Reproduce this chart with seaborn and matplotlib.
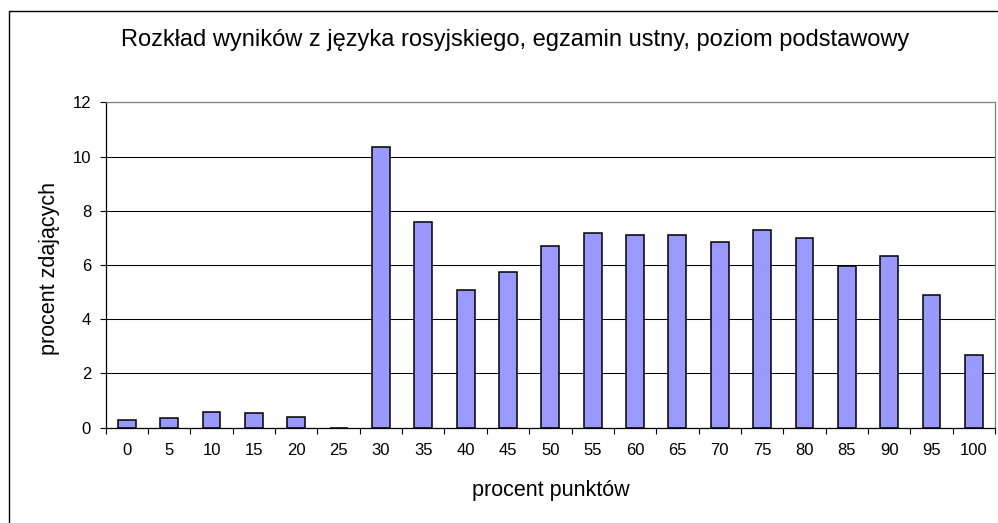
import pandas as pd
import seaborn as sns
import matplotlib.pyplot as plt
from matplotlib.patches import Rectangle

# data
scores = ["0", "5", "10", "15", "20", "25", "30", "35", "40", "45", "50",
          "55", "60", "65", "70", "75", "80", "85", "90", "95", "100"]
percent = [0.28, 0.35, 0.59, 0.54, 0.41, 0.0, 10.34, 7.58, 5.08, 5.73, 6.69,
           7.17, 7.11, 7.11, 6.86, 7.29, 6.99, 5.97, 6.34, 4.89, 2.68]
y_ticks = [0, 2, 4, 6, 8, 10, 12]

title = "Rozkład wyników z języka rosyjskiego, egzamin ustny, poziom podstawowy"
x_label = "procent punktów"
y_label = "procent zdających"

df = pd.DataFrame({"score": scores, "percent": percent})

plt.rcParams["font.family"] = ["Liberation Sans", "DejaVu Sans"]

fig = plt.figure(figsize=(9.98, 5.23), dpi=100)
ax = fig.add_axes([105.7 / 998, 1 - 427.7 / 523, (995 - 105.7) / 998, 325.4 / 523])

sns.barplot(data=df, x="score", y="percent", order=scores, color="#9999FF",
            saturation=1, edgecolor="black", linewidth=1.1, width=0.42, ax=ax)

ax.set_xlim(-0.5, len(scores) - 0.5)
ax.set_ylim(0, 12)
ax.set_yticks(y_ticks)
ax.set_yticklabels([str(v) for v in y_ticks], fontsize=12)

# tick marks between categories, labels at centres (Excel style)
ax.set_xticks([i - 0.5 for i in range(len(scores) + 1)])
ax.set_xticklabels([])
ax.set_xticks(range(len(scores)), minor=True)
ax.set_xticklabels(scores, minor=True, fontsize=12)
ax.tick_params(axis="x", which="major", direction="out", length=4, width=0.8, color="black")
ax.tick_params(axis="x", which="minor", length=0, pad=11)
ax.tick_params(axis="y", direction="out", length=4, width=0.8, color="black", pad=6.5)

ax.yaxis.grid(True, color="black", linewidth=0.75)
ax.set_axisbelow(True)

for side in ["left", "bottom"]:
    ax.spines[side].set_color("black")
    ax.spines[side].set_linewidth(0.9)
for side in ["top", "right"]:
    ax.spines[side].set_color("#808080")
    ax.spines[side].set_linewidth(0.9)

ax.set_xlabel(x_label, fontsize=15.5)
ax.set_ylabel(y_label, fontsize=15.5)
ax.xaxis.set_label_coords(0.5, -0.162)
ax.yaxis.set_label_coords(-0.0514, 0.488)

fig.text(515 / 998, 1 - 46 / 523, title, ha="center", va="baseline", fontsize=17)

# outer chart border
fig.add_artist(Rectangle((9 / 998, -0.05), 1.2, 1 - 11 / 523 + 0.05,
                         transform=fig.transFigure, fill=False,
                         edgecolor="black", linewidth=1.0))

fig.savefig("out.png", dpi=100)
